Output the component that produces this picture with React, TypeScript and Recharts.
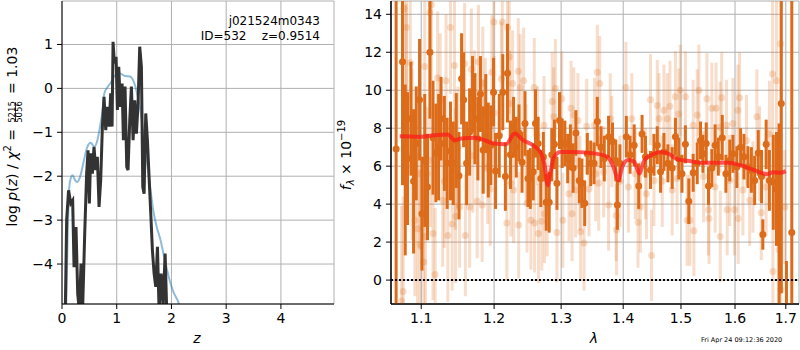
import React from 'react'
import {
  ComposedChart, Line, Scatter, ErrorBar, XAxis, YAxis, CartesianGrid, ReferenceLine,
} from 'recharts'

// left panel: log p(z)
const zDark = [0.055, 0.085, 0.12, 0.16, 0.195, 0.22, 0.256, 0.287, 0.317, 0.348, 0.378, 0.415, 0.45, 0.476, 0.5, 0.524, 0.555, 0.585, 0.616, 0.646, 0.677, 0.707, 0.738, 0.768, 0.799, 0.829, 0.86, 0.89, 0.915, 0.933, 0.957, 0.988, 1.012, 1.037, 1.067, 1.098, 1.122, 1.152, 1.183, 1.207, 1.238, 1.268, 1.299, 1.329, 1.36, 1.39, 1.42, 1.451, 1.476, 1.5, 1.53, 1.561, 1.591, 1.622, 1.652, 1.683, 1.713, 1.744, 1.774, 1.811, 1.848, 1.884, 1.915, 1.945]
const lpDark = [-5.5, -3.0, -2.32, -2.62, -2.55, -4.07, -3.16, -4.68, -5.06, -3.99, -4.98, -3.31, -1.94, -1.41, -2.62, -1.48, -1.94, -1.33, -1.86, -1.56, -2.7, -2.09, -0.87, -0.19, -0.95, -0.42, -0.87, -0.11, -0.87, 1.06, 0.57, 0.72, -0.49, 0.49, -0.42, 0.11, -1.18, 0.04, -1.79, -1.86, -0.72, 0.04, -1.18, -0.27, -1.03, -0.34, 0.95, 0.49, -2.24, -2.4, -0.57, -1.18, -2.02, -2.85, -3.69, -4.22, -4.52, -3.61, -5.06, -4.22, -4.98, -3.76, -5.13, -5.6]
const zBlue = [0.073, 0.104, 0.134, 0.159, 0.195, 0.238, 0.28, 0.329, 0.402, 0.463, 0.524, 0.591, 0.646, 0.695, 0.738, 0.774, 0.829, 0.89, 0.97, 1.061, 1.152, 1.244, 1.305, 1.366, 1.427, 1.488, 1.549, 1.61, 1.671, 1.732, 1.793, 1.854, 1.915, 1.976, 2.037, 2.14, 2.207]
const lpBlue = [-5.2, -3.31, -2.24, -2.05, -1.98, -2.09, -2.13, -2.02, -1.63, -1.33, -1.24, -1.33, -1.18, -0.87, -0.53, -0.11, 0.02, 0.13, 0.3, 0.34, 0.28, 0.27, 0.17, -0.08, -0.46, -1.03, -1.63, -2.24, -2.81, -3.16, -3.42, -3.76, -4.11, -4.41, -4.64, -4.92, -5.29]
const zTicks = [0, 1, 2, 3, 4]
const lpTicks = [-4, -3, -2, -1, 0, 1]

// right panel: spectrum
const darkLam = [1.0675, 1.0757, 1.0792, 1.0822, 1.0866, 1.09, 1.0935, 1.0978, 1.101, 1.1046, 1.1083, 1.1115, 1.1156, 1.1194, 1.1231, 1.1263, 1.1308, 1.1346, 1.1391, 1.1429, 1.147, 1.1507, 1.1543, 1.1571, 1.1612, 1.1654, 1.1695, 1.1729, 1.177, 1.1806, 1.1844, 1.1881, 1.1917, 1.1954, 1.1992, 1.2021, 1.2074, 1.2125, 1.2163, 1.2193, 1.2237, 1.2282, 1.2322, 1.2362, 1.2407, 1.2451, 1.2496, 1.253, 1.2574, 1.2608, 1.2648, 1.2688, 1.2727, 1.2771, 1.2816, 1.2856, 1.2896, 1.2935, 1.2975, 1.3016, 1.3058, 1.3102, 1.3145, 1.3187, 1.3231, 1.3284, 1.3327, 1.3371, 1.3413, 1.3468, 1.3521, 1.3574, 1.3634, 1.3687, 1.3758, 1.3823, 1.3876, 1.3903, 1.3945, 1.4052, 1.4115, 1.4185, 1.4262, 1.4319, 1.4377, 1.4464, 1.4524, 1.4581, 1.4639, 1.4698, 1.4768, 1.4843, 1.4901, 1.496, 1.5018, 1.5079, 1.5141, 1.522, 1.5294, 1.5354, 1.5398, 1.5459, 1.5501, 1.5563, 1.5624, 1.5684, 1.5758, 1.5826, 1.5899, 1.596, 1.6035, 1.6107, 1.6171, 1.6249, 1.6315, 1.6379, 1.645, 1.6515, 1.654, 1.6606, 1.667, 1.6748, 1.6812, 1.6864, 1.6909, 1.7013, 1.7122]
const darkFlux = [6.9, 11.5, 5.8, 6.4, 8.5, 5.2, 7.2, 9.5, 3.5, 6.3, 4.9, 12.0, 7.5, 6.7, 7.0, 8.5, 7.2, 6.15, 6.8, 6.15, 7.35, 5.5, 10.6, 9.5, 6.15, 7.8, 9.8, 8.5, 7.45, 9.8, 6.85, 8.85, 6.85, 7.1, 9.9, 5.75, 7.6, 9.9, 5.45, 10.9, 6.6, 8.05, 7.0, 7.75, 6.2, 8.25, 5.35, 5.35, 5.7, 8.25, 7.2, 5.35, 6.5, 4.1, 4.1, 6.6, 7.15, 5.1, 8.4, 7.2, 7.2, 6.4, 7.0, 5.9, 7.75, 5.25, 5.1, 4.05, 6.65, 6.15, 6.15, 8.35, 7.0, 6.4, 7.55, 7.3, 6.3, 3.95, 6.15, 7.55, 6.6, 7.1, 4.95, 7.7, 6.5, 5.8, 6.6, 7.1, 5.7, 6.75, 6.15, 5.9, 7.55, 6.4, 5.6, 7.15, 4.15, 5.65, 6.15, 7.35, 6.65, 7.2, 4.95, 5.9, 7.1, 6.5, 7.5, 5.6, 6.3, 6.65, 5.95, 7.0, 6.5, 5.95, 5.8, 5.25, 6.7, 5.45, 2.4, 7.15, 5.25, 5.15, 4.8, 3.25, 9.3, -6.0, 2.5]
const darkErr = [30, 6.5, 4.5, 3.5, 3.0, 3.8, 3.0, 3.2, 3.0, 3.5, 2.8, 3.5, 3.0, 2.6, 2.8, 2.2, 2.5, 2.4, 2.6, 2.2, 2.5, 2.3, 2.4, 2.5, 2.2, 2.3, 2.0, 2.4, 2.2, 2.0, 2.3, 2.0, 2.5, 2.1, 1.8, 2.0, 2.2, 2.0, 1.8, 2.6, 1.8, 1.6, 1.6, 1.5, 1.6, 1.7, 1.5, 1.6, 1.5, 1.8, 1.4, 1.5, 1.3, 1.5, 1.6, 1.4, 1.3, 1.4, 1.5, 1.3, 1.2, 1.3, 1.2, 1.3, 1.2, 1.2, 1.3, 1.2, 1.1, 1.2, 1.1, 1.3, 1.1, 1.2, 1.1, 1.0, 1.1, 1.3, 1.0, 1.1, 1.0, 1.1, 1.2, 1.0, 1.1, 1.0, 1.1, 1.0, 1.1, 1.0, 1.0, 1.1, 1.0, 1.1, 1.0, 1.0, 1.2, 1.0, 1.1, 1.0, 1.0, 1.1, 1.0, 1.0, 1.1, 1.0, 1.2, 1.0, 1.1, 1.0, 1.1, 1.0, 1.2, 1.1, 1.2, 1.3, 1.2, 1.4, 0.8, 1.3, 1.6, 2.5, 3.0, 5.0, 10.0, 7.0, 30]

const lightLam = [1.0745, 1.0765, 1.0774, 1.0805, 1.0808, 1.0857, 1.0881, 1.0916, 1.0951, 1.0985, 1.0987, 1.1032, 1.1046, 1.1055, 1.1079, 1.1115, 1.1134, 1.112, 1.1156, 1.1184, 1.1217, 1.1252, 1.1285, 1.1308, 1.1331, 1.1355, 1.1391, 1.1414, 1.1446, 1.1457, 1.146, 1.1493, 1.1516, 1.1585, 1.1595, 1.1654, 1.1678, 1.17, 1.1723, 1.176, 1.1778, 1.183, 1.1839, 1.1855, 1.1875, 1.1908, 1.1944, 1.1968, 1.2, 1.1996, 1.2104, 1.2119, 1.2184, 1.2193, 1.2218, 1.2225, 1.2243, 1.2267, 1.2282, 1.2352, 1.2357, 1.2381, 1.243, 1.2466, 1.2481, 1.254, 1.2589, 1.2595, 1.2638, 1.2653, 1.2703, 1.2737, 1.2745, 1.2786, 1.2861, 1.2886, 1.2911, 1.2935, 1.301, 1.3026, 1.3123, 1.3155, 1.3171, 1.3198, 1.3226, 1.3263, 1.3295, 1.3306, 1.336, 1.3403, 1.344, 1.3528, 1.3548, 1.3574, 1.3597, 1.3613, 1.3676, 1.3758, 1.3785, 1.3812, 1.3881, 1.389, 1.3945, 1.4045, 1.4087, 1.4145, 1.4203, 1.425, 1.429, 1.4377, 1.4395, 1.4464, 1.4482, 1.4524, 1.4581, 1.4611, 1.4669, 1.4698, 1.4756, 1.4803, 1.4843, 1.4901, 1.493, 1.496, 1.4988, 1.5079, 1.511, 1.516, 1.522, 1.5233, 1.5294, 1.5325, 1.5409, 1.5472, 1.5501, 1.551, 1.5563, 1.5624, 1.5642, 1.5716, 1.572, 1.5747, 1.5839, 1.5851, 1.5899, 1.596, 1.5991, 1.6054, 1.606, 1.6087, 1.6152, 1.6221, 1.6282, 1.6346, 1.6423, 1.6476, 1.6509, 1.6606, 1.667, 1.6734, 1.674, 1.6812, 1.6864, 1.6897, 1.69, 1.6981]
const lightFlux = [-1.1, -0.6, 14.3, 9.55, 13.3, 11.45, 6.6, 3.15, 2.7, 5.6, 1.85, 0.95, 11.25, 2.3, 5.6, 14.1, 14.5, 6.3, 2.45, 0.3, 10.65, 9.5, 4.2, 5.2, 10.5, 2.35, 13.3, 2.95, 11.3, 5.85, 3.35, 7.0, 3.85, 11.4, 2.35, 3.85, 11.1, 6.55, 9.1, 4.15, 11.5, 3.95, 10.35, 7.6, 8.7, 5.95, 4.8, 10.95, 8.8, 13.6, 10.6, 13.6, 3.0, 13.3, 11.75, 9.3, 5.1, 10.35, 4.75, 11.0, 2.9, 10.15, 10.5, 6.65, 4.05, 3.15, 10.15, 3.0, 7.6, 2.45, 3.1, 8.15, 3.5, 3.85, 9.4, 8.6, 10.1, 2.5, 9.55, 3.15, 4.55, 9.05, 3.5, 8.7, 4.75, 8.4, 5.1, 2.55, 1.95, 8.1, 4.8, 8.15, 5.6, 10.95, 5.1, 10.35, 5.7, 3.95, 8.5, 7.3, 3.4, 2.65, 5.2, 10.15, 4.9, 8.5, 5.6, 3.05, 3.85, 5.6, 4.55, 9.5, 1.3, 5.25, 9.2, 8.5, 5.2, 8.95, 8.5, 9.15, 4.75, 9.65, 5.35, 8.75, 10.0, 9.65, 3.15, 3.15, 8.15, 2.6, 8.7, 10.0, 5.45, 9.55, 3.7, 3.25, 9.05, 4.9, 9.05, 8.05, 2.3, 9.6, 8.15, 3.7, 5.25, 8.25, 3.7, 8.95, 3.25, 9.6, 4.75, 7.35, 4.2, 4.9, 8.6, 6.65, 3.55, 4.9, 7.7, 10.85, 0.45, 10.5, 1.6, 12.45, -0.5, 3.85]
const lightErr = [5, 5, 6, 5, 5, 5, 4.5, 4, 4, 4, 4, 4, 4, 4, 3.5, 4, 4, 3.5, 3.5, 3.5, 3.5, 3.5, 3.5, 3.5, 3.5, 3.5, 3.5, 3.5, 3.5, 3.2, 3.5, 3.2, 3.2, 3.2, 3.2, 3.2, 3.2, 3.0, 3.0, 3.0, 3.0, 3.0, 3.0, 3.0, 3.0, 3.0, 3.0, 3.0, 3.0, 3.0, 3.0, 3.0, 3.0, 3.0, 3.0, 2.8, 2.8, 2.8, 2.8, 2.8, 2.8, 2.8, 2.8, 2.6, 2.6, 2.6, 2.6, 2.6, 2.6, 2.6, 2.6, 2.6, 2.6, 2.6, 2.6, 2.6, 2.6, 2.6, 2.5, 2.5, 2.5, 2.5, 2.5, 2.5, 2.5, 2.5, 2.5, 2.5, 2.5, 2.5, 2.5, 2.5, 2.5, 2.5, 2.5, 2.5, 2.4, 2.4, 2.4, 2.4, 2.4, 2.4, 2.4, 2.4, 2.4, 2.4, 2.4, 2.4, 2.4, 2.4, 2.4, 2.4, 2.4, 2.4, 2.4, 2.4, 2.4, 2.4, 2.4, 2.4, 2.4, 2.4, 2.4, 2.4, 2.4, 2.4, 2.4, 2.4, 2.4, 2.4, 2.4, 2.4, 2.4, 2.4, 2.4, 2.4, 2.4, 2.4, 2.4, 2.4, 2.4, 2.4, 2.4, 2.4, 2.4, 2.4, 2.4, 2.4, 2.4, 2.4, 2.4, 2.4, 2.4, 2.4, 2.5, 2.5, 2.5, 2.6, 2.8, 4, 3.5, 6, 6, 10, 6, 3]

const modelLam = [1.0721, 1.0728, 1.0987, 1.117, 1.1355, 1.1446, 1.1539, 1.1723, 1.1862, 1.2, 1.2173, 1.2297, 1.2421, 1.257, 1.2693, 1.2742, 1.2792, 1.2831, 1.2891, 1.2989, 1.3203, 1.3526, 1.3742, 1.3839, 1.3919, 1.3984, 1.408, 1.4185, 1.4273, 1.436, 1.4507, 1.4651, 1.4797, 1.4942, 1.5122, 1.5367, 1.5611, 1.5856, 1.6107, 1.6366, 1.6625, 1.6755, 1.6885, 1.7]
const modelFlux = [7.58, 7.58, 7.55, 7.63, 7.67, 7.37, 7.46, 7.5, 7.37, 7.19, 7.16, 7.72, 7.37, 7.1, 6.67, 6.14, 5.0, 5.61, 6.49, 6.75, 6.75, 6.67, 6.49, 5.96, 5.26, 5.96, 6.32, 6.23, 5.61, 6.32, 6.63, 6.75, 6.63, 6.35, 6.28, 6.18, 6.18, 6.18, 6.05, 5.79, 5.58, 5.68, 5.65, 5.74]
const lamTicks = [1.1, 1.2, 1.3, 1.4, 1.5, 1.6, 1.7]
const fluxTicks = [0, 2, 4, 6, 8, 10, 12, 14]

const darkData = darkLam.map((lam, i) => ({ lam, f: darkFlux[i], e: darkErr[i] }))
const lightData = lightLam.map((lam, i) => ({ lam, f: lightFlux[i], e: lightErr[i] }))
const modelData = modelLam.map((lam, i) => ({ lam, f: modelFlux[i] }))
const darkCurve = zDark.map((z, i) => ({ z, p: lpDark[i] }))
const blueCurve = zBlue.map((z, i) => ({ z, p: lpBlue[i] }))

const FONT = 'DejaVu Sans'
const ORANGE = 'rgb(220,108,26)'
const ORANGE_LIGHT = 'rgba(220,108,26,0.23)'
const tickStyle = { fill: '#000', fontSize: 14, fontFamily: FONT }
const minus = (v: number) => String(v).replace('-', '\u2212')

const dot = (fill: string) => (p: any) => <circle cx={p.cx} cy={p.cy} r={3.5} fill={fill} />

const LAM_DOMAIN = [1.061, 1.727]
const F_DOMAIN = [-1.26, 14.7]

// layer: 'base' = grid + axes, 'data' = series only (clipped to the plot box), 'frame' = spines on top
function SpectrumChart({ layer }: { layer: 'base' | 'data' | 'frame' }) {
  const show = layer !== 'data'
  const ticksOn = layer === 'base'
  const axisLine = show ? { stroke: '#000' } : false
  return (
    <ComposedChart width={460} height={350} margin={{ top: 1, right: 1, bottom: 0, left: 0 }}>
      {layer === 'base' && <CartesianGrid stroke="#b0b0b0" strokeWidth={1} />}
      <XAxis type="number" dataKey="lam" scale="log" domain={LAM_DOMAIN} ticks={lamTicks} allowDataOverflow height={46}
        tick={ticksOn ? tickStyle : false} tickLine={ticksOn ? { stroke: '#000' } : false} tickSize={5} tickMargin={4} axisLine={axisLine} />
      <XAxis xAxisId="top" orientation="top" type="number" scale="log" domain={LAM_DOMAIN} height={0} tick={false} tickLine={false} axisLine={axisLine} />
      <YAxis type="number" dataKey="f" domain={F_DOMAIN} ticks={fluxTicks} allowDataOverflow width={51}
        tick={ticksOn ? tickStyle : false} tickLine={ticksOn ? { stroke: '#000' } : false} tickSize={5} tickMargin={4} axisLine={axisLine} />
      <YAxis yAxisId="right" orientation="right" domain={F_DOMAIN} width={0} tick={false} tickLine={false} axisLine={axisLine} />
      {layer === 'data' && (
        <Scatter data={lightData} dataKey="f" shape={dot(ORANGE_LIGHT)} isAnimationActive={false}>
          <ErrorBar dataKey="e" direction="y" width={0} stroke={ORANGE_LIGHT} strokeWidth={3} />
        </Scatter>
      )}
      {layer === 'data' && (
        <Scatter data={darkData} dataKey="f" shape={dot(ORANGE)} isAnimationActive={false}>
          <ErrorBar dataKey="e" direction="y" width={0} stroke={ORANGE} strokeWidth={3} />
        </Scatter>
      )}
      {layer === 'data' && (
        <Line data={modelData} dataKey="f" type="monotone" stroke="rgba(255,25,25,0.72)" strokeWidth={4} dot={false} isAnimationActive={false} zIndex={900} />
      )}
      {layer === 'data' && <ReferenceLine y={0} stroke="#000" strokeWidth={2} strokeDasharray="2 2" zIndex={950} />}
    </ComposedChart>
  )
}

export default function App() {
  return (
    <div style={{ position: 'absolute', left: 0, top: 0, width: 800, height: 350, background: '#fff', fontFamily: FONT }}>
      <div style={{ position: 'absolute', left: 0, top: 0 }}>
        <ComposedChart width={340} height={350} margin={{ top: 1, right: 6, bottom: 0, left: 0 }}>
          <CartesianGrid stroke="#b0b0b0" strokeWidth={1} />
          <XAxis type="number" dataKey="z" domain={[0, 4.97]} ticks={zTicks} allowDataOverflow height={46}
            tick={tickStyle} tickLine={{ stroke: '#000' }} tickSize={5} tickMargin={4} axisLine={{ stroke: '#000' }} />
          <XAxis xAxisId="top" orientation="top" type="number" domain={[0, 4.97]} height={0} tick={false} tickLine={false} axisLine={{ stroke: '#000' }} />
          <YAxis type="number" domain={[-4.91, 1.99]} ticks={lpTicks} allowDataOverflow width={62} tickFormatter={minus}
            tick={tickStyle} tickLine={{ stroke: '#000' }} tickSize={5} tickMargin={4} axisLine={{ stroke: '#000' }} />
          <YAxis yAxisId="right" orientation="right" domain={[-4.91, 1.99]} width={0} tick={false} tickLine={false} axisLine={{ stroke: '#000' }} />
          <Line data={blueCurve} dataKey="p" type="monotone" stroke="rgba(31,119,180,0.5)" strokeWidth={2} dot={false} isAnimationActive={false} />
          <Line data={darkCurve} dataKey="p" type="linear" stroke="#333333" strokeWidth={3} dot={false} isAnimationActive={false} />
        </ComposedChart>
      </div>
      <div style={{ position: 'absolute', left: 340, top: 0 }}>
        <SpectrumChart layer="base" />
      </div>
      <div style={{ position: 'absolute', left: 340, top: 0, clipPath: 'inset(1px 1px 46px 51px)' }}>
        <SpectrumChart layer="data" />
      </div>
      <div style={{ position: 'absolute', left: 340, top: 0 }}>
        <SpectrumChart layer="frame" />
      </div>
      <svg width={800} height={350} style={{ position: 'absolute', left: 0, top: 0, pointerEvents: 'none' }} fontFamily={FONT}>
        <text x={320} y={25} textAnchor="end" fontSize={12}>j021524m0343</text>
        <text x={320} y={40} textAnchor="end" fontSize={12} xmlSpace="preserve">ID=532    z=0.9514</text>
        <g transform="translate(17,152) rotate(-90)" fontSize={14}>
          <text x={23} y={0} textAnchor="end">log <tspan fontStyle="italic">p</tspan>(<tspan fontStyle="italic">z</tspan>) / <tspan fontStyle="italic">χ</tspan><tspan fontSize={10} dy={-6}>2</tspan><tspan dy={6}> =</tspan></text>
          <text x={40} y={-2.5} textAnchor="middle" fontSize={8.5}>5215</text>
          <line x1={31} x2={49} y1={-1.5} y2={-1.5} stroke="#000" strokeWidth={0.8} />
          <text x={40} y={4.5} textAnchor="middle" fontSize={8.5}>5056</text>
          <text x={58} y={0} textAnchor="start">= 1.03</text>
        </g>
        <g transform="translate(351,155) rotate(-90)" fontSize={14}>
          <text x={0} y={0} textAnchor="middle"><tspan fontStyle="italic">f</tspan><tspan fontSize={10} dy={3} fontStyle="italic">λ</tspan><tspan dy={-3}> × 10</tspan><tspan fontSize={10} dy={-6}>−19</tspan></text>
        </g>
        <text x={197} y={343} textAnchor="middle" fontSize={14} fontStyle="italic">z</text>
        <text x={594} y={343} textAnchor="middle" fontSize={14} fontStyle="italic">λ</text>
        <text x={701} y={342} fontSize={6.5}>Fri Apr 24 09:12:36 2020</text>
      </svg>
    </div>
  )
}
